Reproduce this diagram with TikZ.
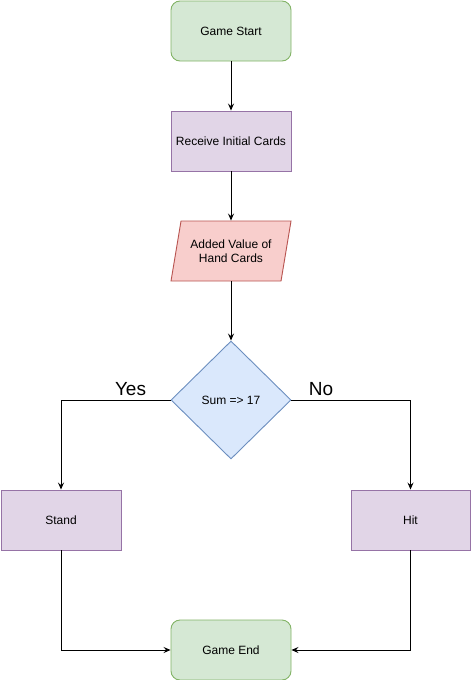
\documentclass[tikz,border=0pt]{standalone}
\usepackage{fontspec}
\setmainfont{Liberation Sans}
\usetikzlibrary{shapes.geometric,arrows.meta}

\definecolor{greenfill}{HTML}{D5E8D4}
\definecolor{greenline}{HTML}{82B366}
\definecolor{purplefill}{HTML}{E1D5E7}
\definecolor{purpleline}{HTML}{9673A6}
\definecolor{redfill}{HTML}{F8CECC}
\definecolor{redline}{HTML}{B85450}
\definecolor{bluefill}{HTML}{DAE8FC}
\definecolor{blueline}{HTML}{6C8EBF}

\begin{document}
\begin{tikzpicture}[x=1pt,y=-1pt,line width=0.9pt]
            \tikzstyle{every node}+=[inner sep=0pt,font=\fontsize{12}{14}\selectfont,align=center]
            \tikzstyle{terminal}=[draw=greenline,fill=greenfill,rounded corners=9pt,minimum width=120pt,minimum height=60pt]
            \tikzstyle{process}=[draw=purpleline,fill=purplefill,minimum width=120pt,minimum height=60pt]
            \tikzstyle{link}=[black,-{Stealth[length=7pt,width=6pt,inset=2.5pt]}]
            \tikzstyle{answer}=[font=\fontsize{19}{22}\selectfont]
            \useasboundingbox (0,0) rectangle (471,680);
            \node [terminal] (start) at (231,31) {Game Start};
            \node [process] (recv) at (231,141) {Receive Initial Cards};
            \filldraw [draw=redline,fill=redfill] (181,221) -- (291,221) -- (281,281) -- (171,281) -- cycle;
            \node [minimum width=120pt,minimum height=60pt] (added) at (231,251) {Added Value of\\Hand Cards};
            \node [diamond,aspect=1,draw=blueline,fill=bluefill,minimum width=120pt,minimum height=118pt] (sum) at (231,400) {Sum =\textgreater{} 17};
            \node [process] (stand) at (61,520) {Stand};
            \node [process,minimum width=119pt] (hit) at (410.5,520) {Hit};
            \node [terminal] (gameend) at (231,650) {Game End};
            \coordinate (yescorner) at (61,400);
            \coordinate (nocorner) at (410.5,400);
            \draw [link] (start) -- (recv);
            \draw [link] (recv) -- (added);
            \draw [link] (added) -- (sum);
            \draw [link] (sum.west) -- (yescorner) -- (stand);
            \draw [link] (sum.east) -- (nocorner) -- (hit);
            \draw [link] (stand.south) |- (gameend.west);
            \draw [link] (hit.south) |- (gameend.east);
            \node [answer] (yes) at (130.5,389) {Yes};
            \node [answer] (no) at (321,389) {No};
            \end{tikzpicture}
\end{document}
